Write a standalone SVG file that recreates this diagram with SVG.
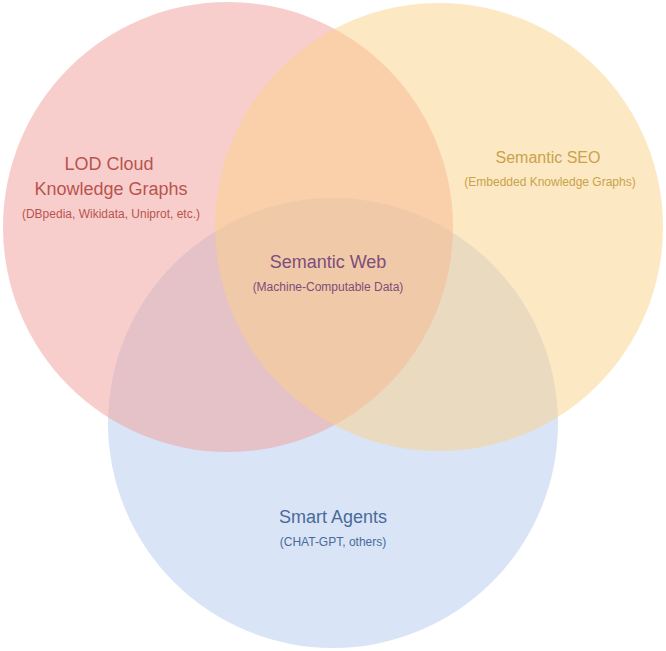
<svg xmlns="http://www.w3.org/2000/svg" width="666" height="651" viewBox="0 0 666 651">
<style>
.c{fill-opacity:0.5;stroke:none}
text{font-family:"Helvetica","Liberation Sans",Arial,sans-serif;text-anchor:middle}
.t{font-size:18px}.s{font-size:12px}
</style>
<rect width="666" height="651" fill="#fff"/>
<g id="agents"><circle class="c" cx="333" cy="423" r="225" fill="#b3cbed"/></g>
<g id="lod"><circle class="c" cx="228" cy="227" r="225" fill="#f19d99"/></g>
<g id="seo"><circle class="c" cx="439" cy="227" r="224" fill="#fbd189"/></g>
<g id="connectors"></g>
<g id="labels">
<text class="t" x="109" y="170" fill="#b85450">LOD Cloud</text>
<text class="t" x="111" y="195" fill="#b85450">Knowledge Graphs</text>
<text class="s" x="111" y="218" fill="#b85450">(DBpedia, Wikidata, Uniprot, etc.)</text>
<text x="548" y="163" font-size="16" fill="#c9a24a">Semantic SEO</text>
<text class="s" x="550" y="186" fill="#c9a24a">(Embedded Knowledge Graphs)</text>
<text class="t" x="328" y="268" fill="#7d4e7a">Semantic Web</text>
<text class="s" x="328" y="291" fill="#7d4e7a">(Machine-Computable Data)</text>
<text class="t" x="333" y="523" fill="#4a6a9a">Smart Agents</text>
<text class="s" x="333" y="546" fill="#4a6a9a">(CHAT-GPT, others)</text>
</g>
</svg>
